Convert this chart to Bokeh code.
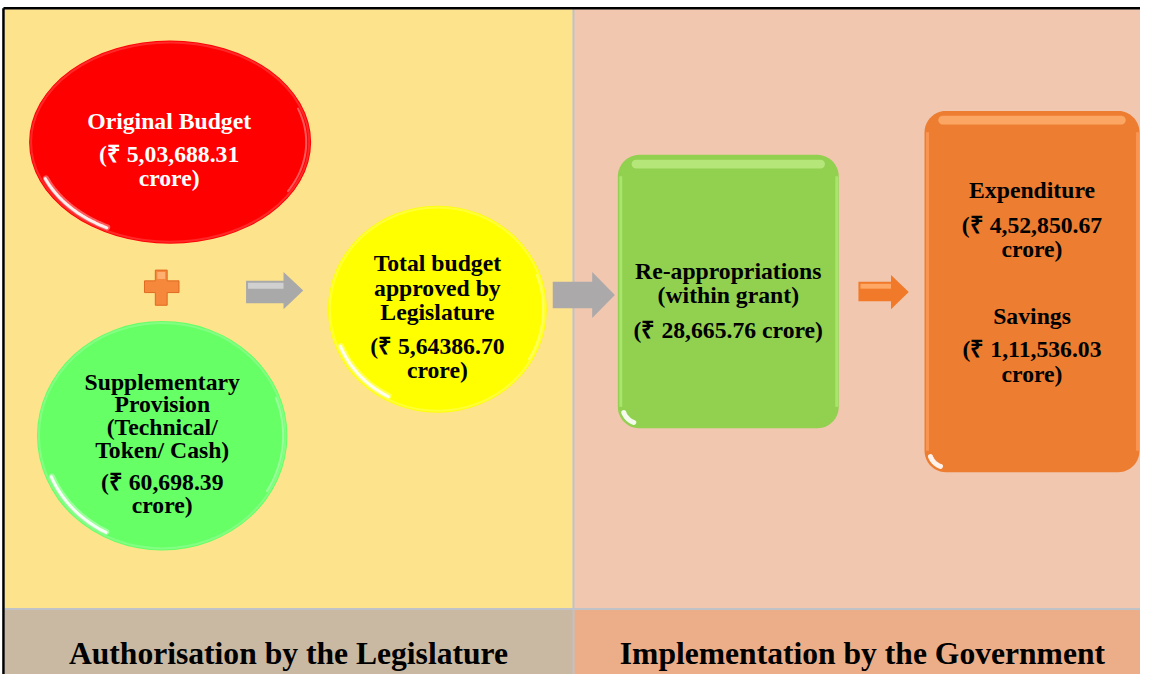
import numpy as np
from bokeh.plotting import figure
from bokeh.models import Range1d
from bokeh.core.properties import value
from bokeh.embed import file_html
from bokeh.resources import INLINE

# ---------------- data ----------------
section_titles = ["Authorisation by the Legislature", "Implementation by the Government"]

original_label = ["Original Budget"]
original_amount = "5,03,688.31"

supp_label = ["Supplementary", "Provision", "(Technical/", "Token/ Cash)"]
supp_amount = "60,698.39"

total_label = ["Total budget", "approved by", "Legislature"]
total_amount = "5,64386.70"

reapp_label = ["Re-appropriations", "(within grant)"]
reapp_amount = "28,665.76"

exp_label = ["Expenditure"]
exp_amount = "4,52,850.67"

sav_label = ["Savings"]
sav_amount = "1,11,536.03"

# ---------------- figure ----------------
W, H = 1140, 674
SC = W / 1156.0
p = figure(width=W, height=H, output_backend="svg", toolbar_location=None,
           x_range=Range1d(0, 1156), y_range=Range1d(690, 0),
           min_border=0, outline_line_color=None)
p.axis.visible = False
p.grid.visible = False
p.background_fill_color = "white"
p.border_fill_color = "white"

FONT = value("Liberation Serif")


def px(v):
    return f"{v * SC:.1f}px"


def rrect(x0, y0, x1, y1, r, n=12):
    xs, ys = [], []
    corners = [(x1 - r, y0 + r, -90, 0), (x1 - r, y1 - r, 0, 90),
               (x0 + r, y1 - r, 90, 180), (x0 + r, y0 + r, 180, 270)]
    for cx, cy, a0, a1 in corners:
        t = np.radians(np.linspace(a0, a1, n))
        xs.extend(cx + r * np.cos(t))
        ys.extend(cy + r * np.sin(t))
    return list(xs), list(ys)


def arrow(x0, x1, xh, ys0, ys1, yh0, yh1):
    ym = (yh0 + yh1) / 2
    return [x0, xh, xh, x1, xh, xh, x0], [ys0, ys0, yh0, ym, yh1, ys1, ys1]


# panels
p.quad(left=[4, 581], right=[581, 1160], top=[9, 9], bottom=[622, 622],
       fill_color=["#FEE38D", "#F1C7AF"], line_color=None)
p.quad(left=[4, 581], right=[581, 1160], top=[624, 624], bottom=[700, 700],
       fill_color=["#C9B8A2", "#EBAE89"], line_color=None)
p.segment(x0=[4, 581], y0=[623, 9], x1=[1160, 581], y1=[623, 700],
          line_color="#BFC3C8", line_width=2)
# outer border
p.segment(x0=[3, 3], y0=[8, 8], x1=[1160, 3], y1=[8, 700],
          line_color="black", line_width=2.5)

# ---------------- ellipses ----------------
def gloss_ellipse(cx, cy, rx, ry, color, light):
    p.ellipse(x=[cx], y=[cy], width=[2 * rx], height=[2 * ry],
              fill_color=color, line_color=None)
    # light rim
    p.ellipse(x=[cx], y=[cy], width=[2 * rx - 4], height=[2 * ry - 4],
              fill_color=None, line_color=light, line_width=2, line_alpha=0.35)
    # white gleam on lower left rim
    for w, a, f in [(6, 0.35, 0.95), (3, 0.9, 0.955)]:
        t = np.radians(np.linspace(118, 158, 30))
        p.line(cx + rx * f * np.cos(t), cy + ry * f * np.sin(t),
               line_color="white", line_width=w, line_alpha=a, line_cap="round")
    t2 = np.radians(np.linspace(-20, 30, 30))
    p.line(cx + rx * 0.965 * np.cos(t2), cy + ry * 0.965 * np.sin(t2),
           line_color="white", line_width=2, line_alpha=0.35, line_cap="round")


gloss_ellipse(172, 145, 143, 104, "#FF0000", "#FF7070")
gloss_ellipse(164, 445.5, 127, 117.5, "#66FF66", "#B8FFB8")
gloss_ellipse(443, 316, 111, 106, "#FFFF00", "#FFFFA0")

# ---------------- rounded rects ----------------
def gloss_rect(x0, y0, x1, y1, r, color, light, rim):
    xs, ys = rrect(x0, y0, x1, y1, r)
    p.patch(xs, ys, fill_color=color, line_color=None)
    hx, hy = rrect(x0 + 14, y0 + 5, x1 - 14, y0 + 14, 4.5)
    p.patch(hx, hy, fill_color=light, fill_alpha=0.8, line_color=None)
    p.segment(x0=[x0 + 3, x1 - 2], y0=[y0 + r, y0 + r], x1=[x0 + 3, x1 - 2], y1=[y1 - r, y1 - r],
              line_color=rim, line_width=3, line_alpha=0.7)
    t = np.radians(np.linspace(110, 160, 20))
    p.line(x0 + r + (r - 5) * np.cos(t), y1 - r + (r - 5) * np.sin(t),
           line_color="white", line_width=5, line_alpha=0.9, line_cap="round")


gloss_rect(626, 158, 850, 438, 22, "#92D050", "#BDEB85", "#B0EE78")
gloss_rect(937, 113, 1155, 483, 22, "#ED7D31", "#FFB070", "#FFA060")

# ---------------- arrows & plus ----------------
ax, ay = arrow(249, 307, 287, 287, 310, 278, 316)
p.patch(ax, ay, fill_color="#A9A9A9", line_color=None)
p.quad(left=[251], right=[287], top=[289], bottom=[295], fill_color="#D0D0D0", line_color=None)

ax, ay = arrow(560, 623, 600, 288, 315, 278, 325)
p.patch(ax, ay, fill_color="#ABA9A9", line_color=None)

ax, ay = arrow(870, 921, 903, 288, 308, 281, 316)
p.patch(ax, ay, fill_color="#F07A2A", line_color=None)
p.quad(left=[872], right=[903], top=[290], bottom=[295], fill_color="#FFA865", line_color=None)

plx = [157, 169, 169, 181, 181, 169, 169, 157, 157, 146, 146, 157]
ply = [276, 276, 287, 287, 299, 299, 312, 312, 299, 299, 287, 287]
p.patch(plx, ply, fill_color="#F5883A", line_color="#E06A20", line_width=1)
p.quad(left=[159], right=[167], top=[278], bottom=[285], fill_color="#FFB070", line_color=None)

# ---------------- texts ----------------
def lines(xc, ys, texts, color="black", size=24):
    p.text(x=[xc] * len(texts), y=ys, text=texts, text_font=FONT, text_font_style="bold",
           text_font_size=px(size), text_color=color, text_align="center",
           text_baseline="alphabetic")


rs = "\u20b9"
lines(171, [123, 157, 182], original_label + [f"({rs} {original_amount}", "crore)"], color="white")
lines(164, [391, 413, 437, 460, 493, 516], supp_label + [f"({rs} {supp_amount}", "crore)"])
lines(443, [269, 294, 319, 354, 378], total_label + [f"({rs} {total_amount}", "crore)"])
lines(738, [277, 302, 337], reapp_label + [f"({rs} {reapp_amount} crore)"])
lines(1046, [194, 230, 254], exp_label + [f"({rs} {exp_amount}", "crore)"])
lines(1046, [323, 357, 382], sav_label + [f"({rs} {sav_amount}", "crore)"])

p.text(x=[292, 874], y=[669, 669], text=section_titles, text_font=FONT,
       text_font_style="bold", text_font_size=px(32), text_color="black",
       text_align="center", text_baseline="alphabetic")

open("out.html", "w").write(file_html(p, INLINE))
